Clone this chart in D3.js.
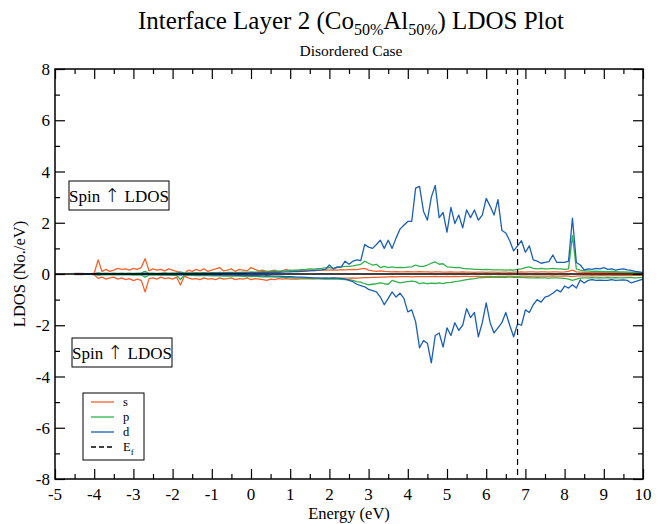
<!DOCTYPE html>
<html>
<head>
    <meta charset="utf-8">
    <style>
        body { margin: 0; background: white; }
        svg text { font-family: "Liberation Serif", "Times New Roman", serif; fill: black; }
    </style>
    <script src="https://cdn.jsdelivr.net/npm/d3@7"></script>
</head>
<body>
    <svg id="chart"></svg>
</body>
<script>

// Energy grid (eV)
let energy = [
    -4.5,-4.4,-4.3,-4.2,-4.1,-4.0,-3.9,-3.8,-3.7,-3.6,
    -3.5,-3.4,-3.3,-3.2,-3.1,-3.0,-2.9,-2.8,-2.7,-2.6,
    -2.5,-2.4,-2.3,-2.2,-2.1,-2.0,-1.9,-1.8,-1.7,-1.6,
    -1.5,-1.4,-1.3,-1.2,-1.1,-1.0,-0.9,-0.8,-0.7,-0.6,
    -0.5,-0.4,-0.3,-0.2,-0.1,0.0,0.1,0.2,0.3,0.4,
    0.5,0.6,0.7,0.8,0.9,1.0,1.1,1.2,1.3,1.4,
    1.5,1.6,1.7,1.8,1.9,2.0,2.1,2.2,2.3,2.4,
    2.5,2.6,2.7,2.8,2.9,3.0,3.1,3.2,3.3,3.4,
    3.5,3.6,3.7,3.8,3.9,4.0,4.1,4.2,4.3,4.4,
    4.5,4.6,4.7,4.8,4.9,5.0,5.1,5.2,5.3,5.4,
    5.5,5.6,5.7,5.8,5.9,6.0,6.1,6.2,6.3,6.4,
    6.5,6.6,6.7,6.8,6.9,7.0,7.1,7.2,7.3,7.4,
    7.5,7.6,7.7,7.8,7.9,8.0,8.1,8.2,8.3,8.4,
    8.5,8.6,8.7,8.8,8.9,9.0,9.1,9.2,9.3,9.4,
    9.5,9.6,9.7,9.8,9.9,10.0
];

// s orbital, spin up / spin down
let sUp = [
    0.02,0.02,0.02,0.0,0.0,0.03,0.55,0.1,0.18,0.1,
    0.15,0.22,0.18,0.2,0.15,0.22,0.18,0.25,0.6,0.12,
    0.2,0.15,0.18,0.12,0.2,0.15,0.1,0.05,0.02,0.15,
    0.1,0.18,0.12,0.2,0.1,0.15,0.2,0.25,0.12,0.15,
    0.2,0.1,0.18,0.15,0.12,0.25,0.18,0.12,0.15,0.1,
    0.12,0.15,0.1,0.12,0.18,0.1,0.15,0.12,0.14,0.12,
    0.15,0.12,0.14,0.15,0.16,0.15,0.16,0.15,0.17,0.16,
    0.17,0.18,0.17,0.2,0.22,0.15,0.12,0.1,0.12,0.1,
    0.09,0.08,0.09,0.08,0.08,0.09,0.08,0.08,0.09,0.08,
    0.08,0.07,0.08,0.08,0.07,0.07,0.08,0.07,0.07,0.08,
    0.07,0.07,0.06,0.07,0.07,0.06,0.07,0.07,0.06,0.07,
    0.07,0.06,0.07,0.07,0.08,0.07,0.08,0.08,0.07,0.08,
    0.08,0.07,0.08,0.08,0.07,0.08,0.1,0.15,0.08,0.07,
    0.06,0.06,0.07,0.06,0.06,0.05,0.06,0.05,0.06,0.05,
    0.05,0.06,0.05,0.05,0.04,0.04
];
let sDown = [
    -0.02,-0.02,-0.02,0.0,0.0,-0.03,-0.17,-0.12,-0.2,-0.15,
    -0.12,-0.2,-0.15,-0.22,-0.18,-0.26,-0.2,-0.25,-0.7,-0.18,
    -0.15,-0.2,-0.12,-0.18,-0.15,-0.2,-0.12,-0.43,-0.08,-0.15,
    -0.2,-0.18,-0.22,-0.15,-0.2,-0.18,-0.22,-0.15,-0.2,-0.18,
    -0.15,-0.22,-0.18,-0.2,-0.15,-0.22,-0.18,-0.2,-0.22,-0.25,
    -0.2,-0.22,-0.18,-0.2,-0.18,-0.2,-0.19,-0.2,-0.18,-0.19,
    -0.18,-0.19,-0.18,-0.17,-0.18,-0.17,-0.16,-0.17,-0.16,-0.16,
    -0.16,-0.15,-0.16,-0.15,-0.14,-0.14,-0.13,-0.13,-0.12,-0.12,
    -0.11,-0.1,-0.11,-0.1,-0.1,-0.1,-0.11,-0.1,-0.1,-0.1,
    -0.1,-0.1,-0.09,-0.1,-0.1,-0.09,-0.1,-0.09,-0.1,-0.09,
    -0.09,-0.1,-0.09,-0.09,-0.1,-0.09,-0.09,-0.1,-0.09,-0.09,
    -0.09,-0.08,-0.09,-0.09,-0.08,-0.08,-0.09,-0.08,-0.08,-0.08,
    -0.08,-0.08,-0.07,-0.08,-0.08,-0.07,-0.08,-0.1,-0.08,-0.07,
    -0.07,-0.07,-0.06,-0.07,-0.06,-0.06,-0.07,-0.06,-0.06,-0.06,
    -0.06,-0.05,-0.06,-0.05,-0.05,-0.05
];

// p orbital
let pUp = [
    0.0,0.0,0.0,0.0,0.0,0.01,0.04,0.02,0.03,0.02,
    0.03,0.02,0.03,0.02,0.03,0.02,0.03,0.04,0.1,0.03,
    0.03,0.02,0.03,0.04,0.03,0.03,0.04,0.08,0.03,0.04,
    0.04,0.05,0.04,0.05,0.04,0.05,0.05,0.06,0.05,0.06,
    0.06,0.05,0.06,0.07,0.06,0.08,0.07,0.08,0.09,0.08,
    0.1,0.11,0.1,0.12,0.13,0.15,0.14,0.16,0.17,0.18,
    0.2,0.19,0.21,0.22,0.24,0.25,0.22,0.25,0.28,0.3,
    0.3,0.32,0.35,0.38,0.5,0.42,0.35,0.38,0.25,0.3,
    0.25,0.28,0.25,0.26,0.25,0.27,0.28,0.35,0.3,0.3,
    0.35,0.42,0.47,0.38,0.4,0.28,0.27,0.25,0.26,0.22,
    0.2,0.2,0.18,0.18,0.17,0.18,0.17,0.16,0.16,0.16,
    0.15,0.16,0.15,0.18,0.2,0.25,0.28,0.22,0.2,0.22,
    0.2,0.2,0.22,0.2,0.2,0.18,0.2,1.5,0.2,0.15,
    0.12,0.12,0.1,0.11,0.1,0.1,0.09,0.1,0.09,0.08,
    0.08,0.07,0.07,0.06,0.06,0.05
];
let pDown = [
    0.0,0.0,0.0,0.0,0.0,-0.01,-0.04,-0.03,-0.03,-0.02,
    -0.03,-0.03,-0.02,-0.03,-0.03,-0.04,-0.03,-0.04,-0.12,-0.04,
    -0.03,-0.04,-0.03,-0.04,-0.04,-0.05,-0.04,-0.22,-0.04,-0.05,
    -0.05,-0.06,-0.05,-0.06,-0.06,-0.07,-0.06,-0.07,-0.08,-0.07,
    -0.08,-0.07,-0.08,-0.09,-0.08,-0.1,-0.09,-0.1,-0.11,-0.1,
    -0.11,-0.12,-0.12,-0.13,-0.14,-0.14,-0.15,-0.16,-0.16,-0.17,
    -0.17,-0.18,-0.18,-0.19,-0.2,-0.2,-0.19,-0.2,-0.21,-0.22,
    -0.22,-0.25,-0.3,-0.32,-0.38,-0.42,-0.4,-0.38,-0.35,-0.38,
    -0.4,-0.25,-0.3,-0.35,-0.32,-0.3,-0.28,-0.3,-0.38,-0.35,
    -0.38,-0.36,-0.37,-0.35,-0.38,-0.34,-0.33,-0.3,-0.28,-0.25,
    -0.22,-0.2,-0.18,-0.15,-0.14,-0.13,-0.13,-0.12,-0.13,-0.12,
    -0.13,-0.12,-0.13,-0.12,-0.13,-0.14,-0.15,-0.15,-0.14,-0.15,
    -0.15,-0.16,-0.15,-0.15,-0.16,-0.17,-0.2,-0.25,-0.2,-0.16,
    -0.15,-0.15,-0.14,-0.15,-0.14,-0.15,-0.14,-0.15,-0.14,-0.15,
    -0.15,-0.14,-0.14,-0.15,-0.14,-0.13
];

// d orbital
let dUp = [
    0.0,0.0,0.0,0.0,0.0,0.01,0.02,0.01,0.01,0.01,
    0.01,0.01,0.01,0.01,0.01,0.01,0.01,0.01,0.03,0.01,
    0.01,0.01,0.01,0.02,0.01,0.02,0.02,0.03,0.02,0.02,
    0.02,0.02,0.02,0.03,0.02,0.03,0.03,0.03,0.03,0.04,
    0.04,0.03,0.04,0.04,0.04,0.05,0.05,0.05,0.06,0.05,
    0.06,0.07,0.06,0.07,0.08,0.08,0.09,0.09,0.1,0.11,
    0.12,0.14,0.15,0.16,0.18,0.35,0.2,0.28,0.27,0.5,
    0.38,0.5,0.55,0.52,1.15,1.05,1.0,1.15,1.32,1.0,
    1.32,1.0,1.4,1.75,1.9,2.05,2.05,3.35,3.42,2.45,
    2.1,3.0,3.46,2.2,2.4,1.63,2.6,1.97,2.3,1.8,
    2.5,2.2,2.5,2.1,2.3,2.95,2.65,2.3,2.9,1.7,
    1.6,1.3,0.9,1.1,1.3,0.85,1.1,0.55,0.5,0.42,
    0.45,0.48,0.74,0.45,0.45,0.45,0.5,2.18,0.45,0.35,
    0.16,0.2,0.18,0.22,0.2,0.25,0.18,0.2,0.15,0.18,
    0.2,0.16,0.14,0.1,0.08,0.05
];
let dDown = [
    0.0,0.0,0.0,0.0,0.0,-0.01,-0.02,-0.01,-0.01,-0.01,
    -0.01,-0.01,-0.01,-0.01,-0.01,-0.01,-0.01,-0.01,-0.03,-0.01,
    -0.01,-0.01,-0.02,-0.01,-0.02,-0.02,-0.02,-0.04,-0.02,-0.02,
    -0.02,-0.03,-0.02,-0.03,-0.03,-0.03,-0.04,-0.03,-0.04,-0.04,
    -0.04,-0.05,-0.04,-0.05,-0.05,-0.06,-0.05,-0.06,-0.07,-0.06,
    -0.07,-0.08,-0.08,-0.09,-0.1,-0.1,-0.11,-0.12,-0.12,-0.13,
    -0.14,-0.15,-0.15,-0.16,-0.15,-0.16,-0.15,-0.16,-0.17,-0.2,
    -0.25,-0.3,-0.4,-0.45,-0.5,-0.6,-0.65,-0.7,-0.9,-1.2,
    -0.95,-0.7,-0.9,-0.75,-0.95,-1.48,-1.4,-1.87,-2.88,-2.6,
    -2.7,-3.47,-2.4,-2.3,-2.85,-2.1,-2.4,-1.9,-2.2,-2.0,
    -1.35,-1.7,-1.5,-2.45,-1.9,-1.13,-1.9,-2.3,-2.1,-1.9,
    -1.5,-2.0,-2.45,-1.95,-2.0,-1.4,-1.5,-1.2,-1.0,-1.1,
    -0.9,-0.85,-0.75,-0.62,-0.7,-0.47,-0.55,-0.42,-0.55,-0.23,
    -0.35,-0.25,-0.22,-0.25,-0.24,-0.25,-0.25,-0.22,-0.25,-0.24,
    -0.23,-0.25,-0.35,-0.3,-0.25,-0.2
];

let fermiEnergy = 6.8;
let xTicks = [-5,-4,-3,-2,-1,0,1,2,3,4,5,6,7,8,9,10];
let yTicks = [-8,-6,-4,-2,0,2,4,6,8];
let legendNames = ["s", "p", "d", "E"];

let colors = { s: "#f4622c", p: "#2fb24c", d: "#1b5fb5" };

function getConfig() {
    let width = 669;
    let height = 524;
    let margin = { top: 69, bottom: 45, left: 55, right: 26 };
    let bodyWidth = width - margin.left - margin.right;
    let bodyHeight = height - margin.top - margin.bottom;
    let container = d3.select("#chart").attr("width", width).attr("height", height);
    return { width, height, margin, bodyWidth, bodyHeight, container };
}

function getScales(config) {
    let { margin, bodyWidth, bodyHeight } = config;
    let xScale = d3.scaleLinear().domain([-5, 10]).range([margin.left, margin.left + bodyWidth]);
    let yScale = d3.scaleLinear().domain([-8, 8]).range([margin.top + bodyHeight, margin.top]);
    return { xScale, yScale };
}

function drawAxes(config, scales) {
    let { container, margin, bodyWidth, bodyHeight } = config;
    let { xScale, yScale } = scales;
    let bottom = margin.top + bodyHeight;
    let right = margin.left + bodyWidth;
    let xMinor = d3.range(-4.5, 10, 1);
    let yMinor = d3.range(-7, 8, 2);

    // major + minor ticks on all four sides, pointing inward
    let sides = [
        { axis: d3.axisBottom, pos: `translate(0,${bottom})`, scale: xScale, ticks: xTicks, minor: xMinor },
        { axis: d3.axisTop, pos: `translate(0,${margin.top})`, scale: xScale, ticks: xTicks, minor: xMinor },
        { axis: d3.axisLeft, pos: `translate(${margin.left},0)`, scale: yScale, ticks: yTicks, minor: yMinor },
        { axis: d3.axisRight, pos: `translate(${right},0)`, scale: yScale, ticks: yTicks, minor: yMinor }
    ];
    sides.forEach(s => {
        container.append("g").attr("transform", s.pos)
            .call(s.axis(s.scale).tickValues(s.minor).tickSize(-5).tickFormat("").tickSizeOuter(0))
            .call(g => g.select(".domain").remove());
        container.append("g").attr("transform", s.pos)
            .call(s.axis(s.scale).tickValues(s.ticks).tickSize(-10).tickFormat("").tickSizeOuter(0))
            .call(g => g.select(".domain").remove());
    });
    container.selectAll(".tick line").attr("stroke", "#000").attr("stroke-width", 1.2);

    // labels
    container.append("g").selectAll("text").data(xTicks).enter().append("text")
        .attr("x", d => xScale(d))
        .attr("y", bottom + 21)
        .attr("text-anchor", "middle")
        .style("font-size", "17px")
        .text(d => d);
    container.append("g").selectAll("text").data(yTicks).enter().append("text")
        .attr("x", margin.left - 5)
        .attr("y", d => yScale(d) + 6)
        .attr("text-anchor", "end")
        .style("font-size", "17px")
        .text(d => d);

    container.append("rect")
        .attr("x", margin.left).attr("y", margin.top)
        .attr("width", bodyWidth).attr("height", bodyHeight)
        .attr("fill", "none").attr("stroke", "#000").attr("stroke-width", 1.5);

    container.append("text")
        .attr("x", xScale(2.5)).attr("y", bottom + 40)
        .attr("text-anchor", "middle").style("font-size", "16.5px")
        .text("Energy (eV)");
    container.append("text")
        .attr("transform", `translate(25,${yScale(0)}) rotate(-90)`)
        .attr("text-anchor", "middle").style("font-size", "16.5px")
        .text("LDOS (No./eV)");
}

function drawTitle(config) {
    let { container } = config;
    let title = container.append("text")
        .attr("x", 351).attr("y", 29)
        .attr("text-anchor", "middle")
        .style("font-size", "25px");
    title.append("tspan").text("Interface Layer 2 (Co");
    title.append("tspan").attr("dy", 6).style("font-size", "16px").text("50%");
    title.append("tspan").attr("dy", -6).text("Al");
    title.append("tspan").attr("dy", 6).style("font-size", "16px").text("50%");
    title.append("tspan").attr("dy", -6).text(") LDOS Plot");

    container.append("text")
        .attr("x", 351).attr("y", 56)
        .attr("text-anchor", "middle")
        .style("font-size", "15.5px")
        .text("Disordered Case");
}

function drawCurves(config, scales) {
    let { container } = config;
    let { xScale, yScale } = scales;
    let line = d3.line().x((d, i) => xScale(energy[i])).y(d => yScale(d));
    let series = [
        { values: sUp, color: colors.s }, { values: sDown, color: colors.s },
        { values: pUp, color: colors.p }, { values: pDown, color: colors.p },
        { values: dUp, color: colors.d }, { values: dDown, color: colors.d }
    ];
    container.append("g").selectAll("path").data(series).enter().append("path")
        .attr("d", d => line(d.values))
        .attr("fill", "none")
        .attr("stroke", d => d.color)
        .attr("stroke-width", 1.3)
        .attr("stroke-linejoin", "round");

    // zero line
    container.append("line")
        .attr("x1", xScale(-5)).attr("x2", xScale(10))
        .attr("y1", yScale(0)).attr("y2", yScale(0))
        .attr("stroke", "#000").attr("stroke-width", 1.5);

    // Fermi level
    container.append("line")
        .attr("x1", xScale(fermiEnergy)).attr("x2", xScale(fermiEnergy))
        .attr("y1", yScale(8)).attr("y2", yScale(-8))
        .attr("stroke", "#000").attr("stroke-width", 1.2)
        .attr("stroke-dasharray", "6,4");
}

function drawSpinBoxes(config) {
    let { container } = config;
    let boxes = [{ x: 69, y: 181 }, { x: 72, y: 338 }];
    boxes.forEach(b => {
        container.append("rect")
            .attr("x", b.x).attr("y", b.y).attr("width", 100).attr("height", 29)
            .attr("fill", "white").attr("stroke", "#000").attr("stroke-width", 1);
        let t = container.append("text")
            .attr("x", b.x + 50).attr("y", b.y + 21)
            .attr("text-anchor", "middle")
            .style("font-size", "17px");
        t.append("tspan").text("Spin ");
        t.append("tspan").style("font-family", "'DejaVu Sans'").style("font-weight", "200")
            .style("font-size", "19px").text("\u2191");
        t.append("tspan").text(" LDOS");
    });
}

function drawLegend(config) {
    let { container } = config;
    let g = container.append("g").attr("transform", "translate(83,393)");
    g.append("rect").attr("width", 61).attr("height", 67)
        .attr("fill", "white").attr("stroke", "#000").attr("stroke-width", 1);
    let rows = [
        { color: colors.s, dash: null },
        { color: colors.p, dash: null },
        { color: colors.d, dash: null },
        { color: "#000", dash: "5,3" }
    ];
    rows.forEach((r, i) => {
        let y = 9 + i * 15;
        g.append("line").attr("x1", 8).attr("x2", 31).attr("y1", y).attr("y2", y)
            .attr("stroke", r.color).attr("stroke-width", 1.3)
            .attr("stroke-dasharray", r.dash);
        let t = g.append("text").attr("x", 40).attr("y", y + 4).style("font-size", "12.5px");
        t.append("tspan").text(legendNames[i]);
        if (i === 3) t.append("tspan").attr("dy", 4).style("font-size", "9px").text("f");
    });
}

function showChart() {
    let config = getConfig();
    let scales = getScales(config);
    drawCurves(config, scales);
    drawAxes(config, scales);
    drawTitle(config);
    drawSpinBoxes(config);
    drawLegend(config);
}

showChart();

</script>
</html>
